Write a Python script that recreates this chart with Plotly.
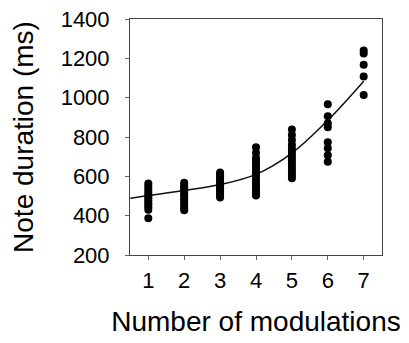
import plotly.graph_objects as go

# Data
modulations = [1, 2, 3, 4, 5, 6, 7]
durations = {
    1: [563, 548, 535, 522, 510, 498, 487, 476, 465, 455, 443, 430, 387],
    2: [568, 556, 545, 535, 525, 515, 505, 495, 485, 475, 462, 450, 438, 428],
    3: [620, 610, 600, 590, 580, 570, 560, 550, 540, 530, 520, 510, 500, 492],
    4: [748, 720, 695, 680, 665, 650, 635, 620, 605, 590, 575, 560, 545, 530, 515, 502],
    5: [838, 810, 785, 760, 740, 725, 710, 695, 680, 665, 650, 635, 620, 605, 590],
    6: [966, 905, 870, 849, 773, 743, 707, 674],
    7: [1240, 1225, 1168, 1107, 1014],
}
curve_x = [0.5, 1, 2, 3, 4, 5, 6, 7]
curve_y = [489, 503, 528, 558, 610, 718, 885, 1084]

y_ticks = [200, 400, 600, 800, 1000, 1200, 1400]

xs, ys = [], []
for m in modulations:
    for v in durations[m]:
        xs.append(m)
        ys.append(v)

fig = go.Figure()
fig.add_trace(go.Scatter(x=curve_x, y=curve_y, mode="lines",
                         line=dict(color="#111111", width=1.5, shape="spline"),
                         hoverinfo="skip"))
fig.add_trace(go.Scatter(x=xs, y=ys, mode="markers",
                         marker=dict(color="black", size=8)))

font = "Liberation Sans, Arial, sans-serif"
# page body has an 8px default margin, so the figure is 8px smaller each way
fig.update_layout(
    width=401, height=335,
    margin=dict(l=122, r=27, t=11, b=88),
    paper_bgcolor="white", plot_bgcolor="white",
    showlegend=False,
    font=dict(family=font, color="black"),
)
fig.update_xaxes(
    range=[0.49, 7.51], tickvals=modulations, ticktext=[str(m) for m in modulations],
    showgrid=False, zeroline=False, automargin=False,
    showline=True, linecolor="#444444", linewidth=1, mirror=True,
    ticks="outside", ticklen=4, tickcolor="#666666", tickwidth=1,
    tickfont=dict(size=22, family=font), ticklabelstandoff=2,
    ticklabeloverflow="allow",
    title=dict(text="Number of modulations", font=dict(size=28, family=font), standoff=18),
)
fig.update_yaxes(
    range=[200, 1400], tickvals=y_ticks,
    showgrid=False, zeroline=False, automargin=False,
    showline=True, linecolor="#444444", linewidth=1, mirror=True,
    ticks="outside", ticklen=4, tickcolor="#666666", tickwidth=1,
    tickfont=dict(size=22, family=font), ticklabelstandoff=11,
    ticklabeloverflow="allow",
    title=dict(text="Note duration (ms)", font=dict(size=28, family=font), standoff=18),
)

fig.write_html("out.html")
